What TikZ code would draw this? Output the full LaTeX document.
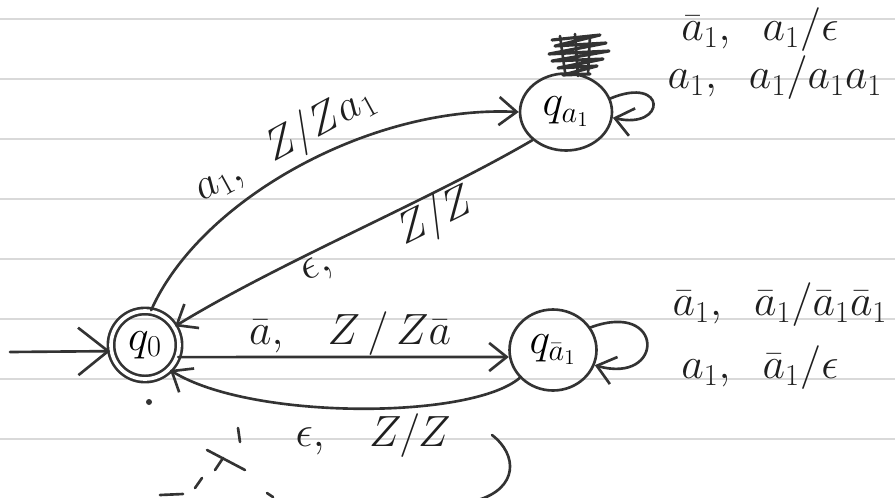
\documentclass[tikz,border=0pt]{standalone}
\usepackage{amsmath}
\usetikzlibrary{arrows.meta,shapes.geometric}
\begin{document}
\begin{tikzpicture}[x=0.02cm,y=-0.02cm,
  ink/.style={draw=black!80, line width=1.5pt, line cap=round, line join=round},
  barb/.style={-{Straight Barb[length=10pt,width=16pt,line width=1.5pt]}},
  edge/.style={ink, barb},
  lbl/.style={text=black!88, font=\fontsize{24}{28}\selectfont, inner sep=2pt},
  state/.style={ink, font=\fontsize{25}{29}\selectfont, inner sep=0pt},
  ruled/.style={draw=gray!30, line width=0.7pt},
  ]
\useasboundingbox (0,0) rectangle (895,497);
\clip (0,0) rectangle (895,497);
\fill[white] (0,0) rectangle (895,497);
\foreach \y in {19,79,...,439} \draw[ruled] (0,\y) -- (895,\y);

% states
\node[state, circle, minimum size=1.36cm, double, double distance=2.1pt] (q0) at (145,345) {$q_0$};
\node[state, ellipse, minimum width=1.84cm, minimum height=1.54cm] (qa1) at (566,112) {$q_{a_1}$};
\node[state, ellipse, minimum width=1.74cm, minimum height=1.62cm] (qa2) at (553,350) {$q_{\bar a_1}$};

% initial arrow
\coordinate (init) at (10,352);
\draw[ink, -{Straight Barb[length=17pt,width=27pt,line width=1.5pt]}] (init) -- (q0.190);

% q0 -> qa1
\draw[edge] (q0.80) .. controls (200,200) and (370,105) .. (qa1.west)
  node[lbl, pos=0.5, sloped, above] {$a_1,\;\ Z/Za_1$};
% qa1 -> q0
\draw[edge] (qa1.220) .. controls (430,200) and (280,262) .. (q0.32)
  node[lbl, pos=0.31, sloped, below, inner sep=0pt] {$Z/Z$}
  node[lbl, pos=0.62, sloped, below] {$\epsilon,$};
% q0 -> qa2
\draw[edge] (q0.-20) -- (qa2.189)
  node[lbl, pos=0.52, above, inner sep=0pt] {$\bar a,\;\;\ Z\,/\,Z\bar a$};
% qa2 -> q0
\draw[edge] (qa2.220) .. controls (470,420) and (250,420) .. (q0.-45)
  node[lbl, pos=0.46, below] {$\epsilon,\;\;\ Z/Z$};

% loops
\draw[edge] (qa1.17) .. controls (667,75) and (667,130) .. (qa1.-7);
\draw[edge] (qa2.31) .. controls (665,300) and (665,385) .. (qa2.-20);

\node[lbl] (l1) at (760,30) {$\bar a_1,\;\ a_1/\epsilon$};
\node[lbl] (l2) at (775,78) {$a_1,\;\ a_1/a_1a_1$};
\node[lbl] (l3) at (780,305) {$\bar a_1,\;\ \bar a_1/\bar a_1\bar a_1$};
\node[lbl] (l4) at (760,368) {$a_1,\;\ \bar a_1/\epsilon$};

% scribble above q_a1
\draw[ink, line width=1.8pt] (552,40) -- (600,35) -- (555,46) -- (606,43) -- (549,54) -- (609,51)
  -- (552,61) -- (603,59) -- (558,68) -- (597,66) -- (563,75) -- (590,74);
\draw[ink, line width=1.5pt] (560,36) -- (565,72) (575,34) -- (578,76) (590,36) -- (588,74);

% bottom marks
\draw[ink] (492,435) .. controls (518,455) and (518,488) .. (478,500);
\draw[ink] (160,495) -- (183,494);
\draw[ink] (195,488) -- (202,478);
\draw[ink] (207,450) -- (245,470);
\draw[ink] (223,458) -- (215,470);
\draw[ink] (238,428) -- (240,442);
\draw[ink] (267,493) -- (273,497);
\fill[black!80] (149,402) circle (3);
\end{tikzpicture}
\end{document}
